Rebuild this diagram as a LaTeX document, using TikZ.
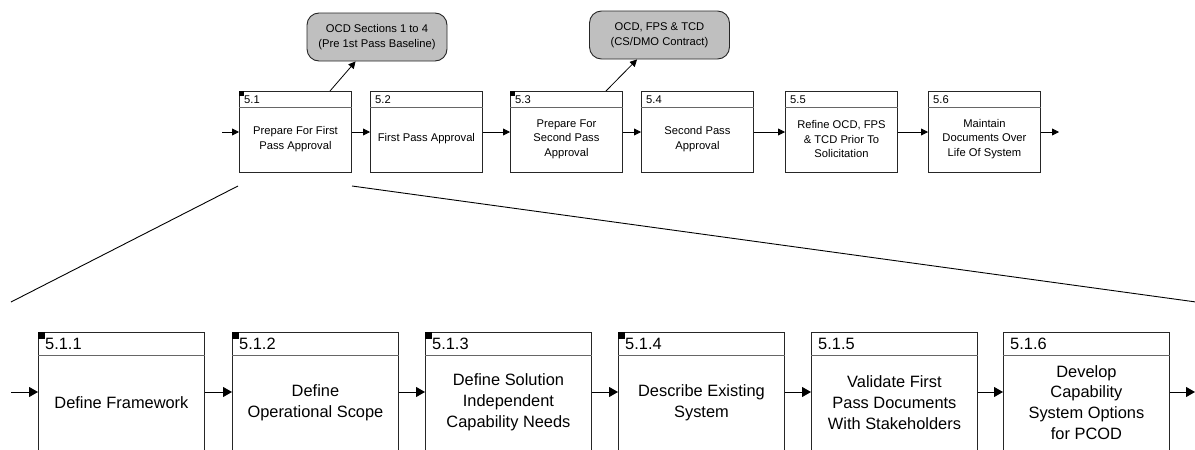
\documentclass[tikz,border=0pt]{standalone}
\usepackage{fontspec}
\setmainfont{Liberation Sans}
\usetikzlibrary{arrows.meta,calc}
\begin{document}
\begin{tikzpicture}[x=1pt,y=-1pt,
  tbox/.style={draw=black!85, line width=0.9pt, inner sep=0pt, minimum width=112pt, minimum height=81pt, anchor=north west},
  bbox/.style={draw=black!85, line width=0.9pt, inner sep=0pt, minimum width=166pt, minimum height=122pt, anchor=north west},
  hdr/.style={draw=black!60, line width=0.9pt},
  ttext/.style={align=center, inner sep=0pt, font=\fontsize{11.2}{14.6}\selectfont},
  btext/.style={align=center, inner sep=0pt, font=\fontsize{16.4}{20.8}\selectfont},
  tlab/.style={anchor=west, inner sep=0pt, font=\fontsize{11.2}{13}\selectfont},
  blab/.style={anchor=west, inner sep=0pt, font=\fontsize{16.4}{18}\selectfont},
  sarr/.style={-{Triangle[length=7pt,width=7pt]}, line width=0.8pt},
  barr/.style={-{Triangle[length=9pt,width=10pt]}, line width=0.9pt},
  callout/.style={draw=black!85, line width=0.9pt, fill=black!25, rounded corners=12pt, minimum width=140pt, minimum height=48pt, align=center, inner sep=0pt, font=\fontsize{11.2}{15}\selectfont},
  zline/.style={line width=0.9pt}
]
\useasboundingbox (0,0) rectangle (1195,450);
\clip (0,0) rectangle (1195,450);

% top row
\foreach \n/\x/\lab/\txt in {
  51/239/5.1/{Prepare For First\\Pass Approval},
  52/370/5.2/{First Pass Approval},
  53/510/5.3/{Prepare For\\Second Pass\\Approval},
  54/641/5.4/{Second Pass\\Approval},
  55/785/5.5/{Refine OCD, FPS\\\& TCD Prior To\\Solicitation},
  56/928/5.6/{Maintain\\Documents Over\\Life Of System}}{
  \node[tbox] (b\n) at (\x,91) {};
  \draw[hdr] ($(b\n.north west)+(0,16)$) -- ($(b\n.north east)+(0,16)$);
  \node[tlab] (l\n) at ($(b\n.north west)+(5,8.5)$) {\lab};
  \node[ttext] (t\n) at ($(b\n.north)+(0,48)$) {\txt};
}
\fill (b51.north west) rectangle ++(5,5);
\fill (b53.north west) rectangle ++(5,5);

\coordinate (tin) at (222,132);
\coordinate (tout) at (1059,132);
\draw[sarr] (tin) -- (tin -| b51.west);
\foreach \a/\b in {51/52,52/53,53/54,54/55,55/56}
  \draw[sarr] ($(b\a.north east)+(0,41)$) -- ($(b\b.north west)+(0,41)$);
\draw[sarr] (tout -| b56.east) -- (tout);

% callouts
\node[callout] (c1) at (377,37) {OCD Sections 1 to 4\\(Pre 1st Pass Baseline)};
\node[callout] (c2) at (659.5,35) {OCD, FPS \& TCD\\(CS/DMO Contract)};
\draw[sarr] ($(b51.north west)+(91,0)$) -- ($(c1.south west)+(49,0)$);
\draw[sarr] ($(b53.north west)+(96,0)$) -- ($(c2.south west)+(48,0)$);

% zoom lines
\coordinate (zl1) at (238,186);
\coordinate (zl2) at (11,302);
\coordinate (zr1) at (352,186);
\coordinate (zr2) at (1196,302);
\draw[zline] (zl1) -- (zl2);
\draw[zline] (zr1) -- (zr2);

% bottom row
\foreach \n/\x/\lab/\txt in {
  1/38/5.1.1/{Define Framework},
  2/232/5.1.2/{Define\\Operational Scope},
  3/425/5.1.3/{Define Solution\\Independent\\Capability Needs},
  4/618/5.1.4/{Describe Existing\\System},
  5/811/5.1.5/{Validate First\\Pass Documents\\With Stakeholders},
  6/1003/5.1.6/{Develop\\Capability\\System Options\\for PCOD}}{
  \node[bbox] (s\n) at (\x,332) {};
  \draw[hdr] ($(s\n.north west)+(0,23)$) -- ($(s\n.north east)+(0,23)$);
  \node[blab] (m\n) at ($(s\n.north west)+(7,11.5)$) {\lab};
  \node[btext] (u\n) at ($(s\n.north)+(0,70.5)$) {\txt};
}
\foreach \n in {1,2,3,4}
  \fill (s\n.north west) rectangle ++(7,7);

\coordinate (bin) at (11,392);
\coordinate (bout) at (1195,392);
\draw[barr] (bin) -- (bin -| s1.west);
\foreach \a/\b in {1/2,2/3,3/4,4/5,5/6}
  \draw[barr] ($(s\a.north east)+(0,60)$) -- ($(s\b.north west)+(0,60)$);
\draw[barr] (bout -| s6.east) -- (bout);
\end{tikzpicture}
\end{document}
